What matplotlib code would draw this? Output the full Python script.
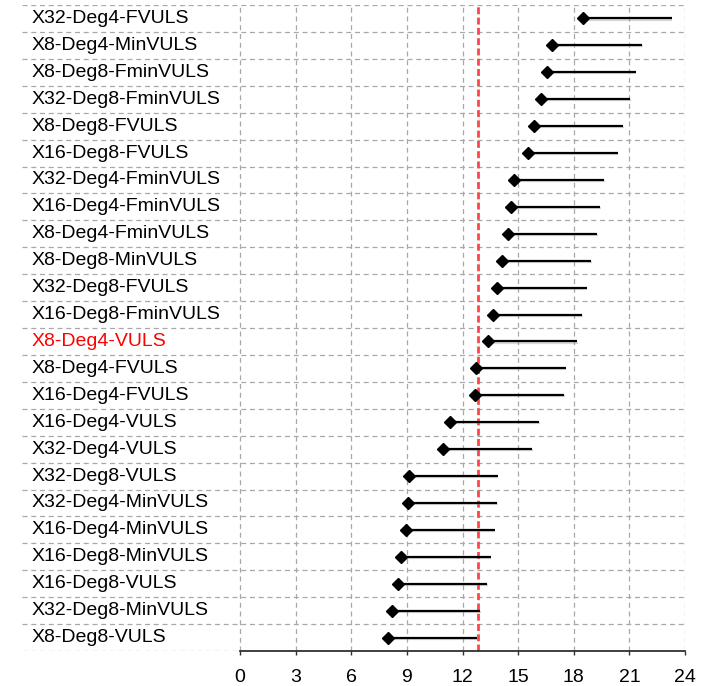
import matplotlib
matplotlib.use("Agg")
import matplotlib.pyplot as plt
import matplotlib.patheffects as pe

labels = [
    "X32-Deg4-FVULS", "X8-Deg4-MinVULS", "X8-Deg8-FminVULS", "X32-Deg8-FminVULS",
    "X8-Deg8-FVULS", "X16-Deg8-FVULS", "X32-Deg4-FminVULS", "X16-Deg4-FminVULS",
    "X8-Deg4-FminVULS", "X8-Deg8-MinVULS", "X32-Deg8-FVULS", "X16-Deg8-FminVULS",
    "X8-Deg4-VULS", "X8-Deg4-FVULS", "X16-Deg4-FVULS", "X16-Deg4-VULS",
    "X32-Deg4-VULS", "X32-Deg8-VULS", "X32-Deg4-MinVULS", "X16-Deg4-MinVULS",
    "X16-Deg8-MinVULS", "X16-Deg8-VULS", "X32-Deg8-MinVULS", "X8-Deg8-VULS",
]
start_vals = [18.48, 16.85, 16.54, 16.22, 15.84, 15.55, 14.80, 14.60,
              14.44, 14.11, 13.84, 13.65, 13.38, 12.75, 12.66, 11.31,
              10.97, 9.12, 9.08, 8.94, 8.70, 8.52, 8.18, 7.96]
end_vals = [23.28, 21.68, 21.34, 21.04, 20.68, 20.37, 19.63, 19.42,
            19.26, 18.92, 18.70, 18.46, 18.19, 17.57, 17.48, 16.14,
            15.77, 13.90, 13.86, 13.74, 13.52, 13.32, 12.96, 12.80]
highlight = "X8-Deg4-VULS"
ref_value = 12.82
xticks = [0, 3, 6, 9, 12, 15, 18, 21, 24]

plt.rcParams['font.family'] = ['Liberation Sans', 'DejaVu Sans']

fig = plt.figure(figsize=(7.25, 6.86), dpi=100)
ax = fig.add_axes([22/725, 35/686, 663/725, 646/686])
xmin = -11.76
ax.set_xlim(xmin, 24)
n = len(labels)
ax.set_ylim(n - 0.5, -0.5)

grid_kw = dict(color='#a8a8a8', lw=0.9, ls=(0, (4, 3)), zorder=1)
for b in range(n + 1):
    ax.axhline(b - 0.5, **grid_kw)
for t in xticks:
    ax.axvline(t, **grid_kw)

shadow = [pe.SimpleLineShadow(offset=(0.5, -0.8), shadow_color='#909090', alpha=0.35), pe.Normal()]
for i, (lab, s, e) in enumerate(zip(labels, start_vals, end_vals)):
    ax.plot([s, e], [i, i], color='black', lw=1.6, zorder=3, path_effects=shadow,
            solid_capstyle='butt')
    ax.plot([s], [i], marker='D', color='black', ms=5.8, zorder=4, ls='none')
    ax.text(xmin + 0.5, i, lab, ha='left', va='center', fontsize=14,
            color='#ff0000' if lab == highlight else 'black', zorder=5)

ax.axvline(ref_value, color='#ff4545', lw=2, ls=(0, (2.5, 1.2)), zorder=2)

for sp in ['top', 'right', 'left']:
    ax.spines[sp].set_visible(False)
ax.spines['bottom'].set_bounds(0, 24)
ax.spines['bottom'].set_color('#303030')
ax.spines['bottom'].set_linewidth(1.3)
ax.spines['bottom'].set_zorder(6)
ax.set_xticks(xticks)
ax.set_xticklabels([str(t) for t in xticks], fontsize=14)
ax.tick_params(axis='x', length=3, width=1, color='#303030', pad=10)
ax.set_yticks([])

fig.savefig("out.png", dpi=100)
